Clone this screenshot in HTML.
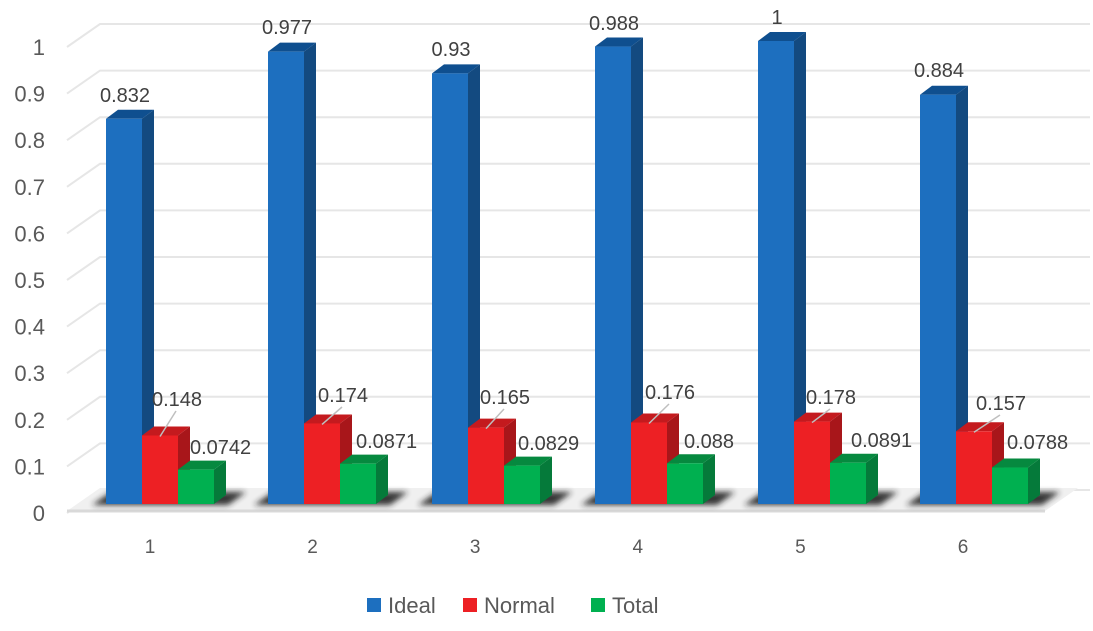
<!DOCTYPE html>
<html><head><meta charset="utf-8"><style>
html,body{margin:0;padding:0;background:#fff;width:1093px;height:631px;overflow:hidden}
svg{font-family:"Liberation Sans",sans-serif}
</style></head><body>
<svg id="s" width="1093" height="631" xmlns="http://www.w3.org/2000/svg">
<defs>
<filter id="bl" x="-20%" y="-100%" width="140%" height="300%"><feGaussianBlur stdDeviation="3"/></filter>
</defs>
</svg>
<script>
const s=document.getElementById('s');let h='';
const yf=v=>513-466*v;
for(let i=0;i<=10;i++){const v=i/10,y=yf(v);
 h+=`<polyline points="67,${y} 100,${y-23} 1090,${y-23}" fill="none" stroke="#e6e6e6" stroke-width="2"/>`;
 h+=`<text x="45" y="${y+8}" font-size="22" fill="#595959" text-anchor="end">${i==0?'0':i==10?'1':(v).toFixed(1)}</text>`;}
h+=`<polygon points="67,511 100,488 1078,488 1045,511" fill="#f0f0f0"/>`;
h+=`<line x1="67" y1="511" x2="1045" y2="511" stroke="#d9d9d9" stroke-width="3"/>`;
const ideal=[0.832,0.977,0.93,0.988,1,0.884],nor=[0.148,0.174,0.165,0.176,0.178,0.157],tot=[0.0742,0.0871,0.0829,0.088,0.0891,0.0788];
const il=['0.832','0.977','0.93','0.988','1','0.884'],nl=['0.148','0.174','0.165','0.176','0.178','0.157'],tl=['0.0742','0.0871','0.0829','0.088','0.0891','0.0788'];
const bx=[106,268,432,595,758,920];
const by=[95,27,49,23,17,70],ry=[399,395,397,392,397,403],gy=[447,441,443,441,440,442];
const rx=[152,318,480,645,806,976],gx=[190,356,518,684,851,1007];
function bar(x,v,f,sd,tp){const b=504,t=504-463*v,w=36,dx=12,dy=9;
 return `<polygon points="${x+w},${b} ${x+w+dx},${b-dy} ${x+w+dx},${t-dy} ${x+w},${t}" fill="${sd}"/>`+
 `<polygon points="${x},${t} ${x+dx},${t-dy} ${x+w+dx},${t-dy} ${x+w},${t}" fill="${tp}"/>`+
 `<rect x="${x}" y="${t}" width="${w}" height="${b-t}" fill="${f}"/>`;}
for(let g=0;g<6;g++){const x=bx[g];
 h+=`<polygon points="${x-14},505 ${x+5},492 ${x+140},492 ${x+122},505" fill="#222" filter="url(#bl)" opacity="0.9"/>`;}
for(let g=0;g<6;g++){const x=bx[g];
 h+=bar(x,ideal[g],'#1d6fbf','#134a80','#0f4f8f');
 h+=bar(x+36,nor[g],'#ed2024','#a8161a','#c41a1e');
 h+=bar(x+72,tot[g],'#00b050','#057a3a','#06893f');}
for(let g=0;g<6;g++){const x=bx[g];
 h+=`<text x="${x+19}" y="${by[g]+7}" font-size="20" fill="#404040" text-anchor="middle">${il[g]}</text>`;
 const rt=504-463*nor[g];
 h+=`<line x1="${x+54}" y1="${rt+1}" x2="${rx[g]+24}" y2="${ry[g]+12}" stroke="#bfbfbf" stroke-width="1.5"/>`;
 h+=`<text x="${rx[g]}" y="${ry[g]+7}" font-size="20" fill="#404040">${nl[g]}</text>`;
 h+=`<text x="${gx[g]}" y="${gy[g]+7}" font-size="20" fill="#404040">${tl[g]}</text>`;
 h+=`<text x="${150+g*162.6}" y="553" font-size="19" fill="#595959" text-anchor="middle">${g+1}</text>`;}
h+=`<rect x="367" y="598" width="14" height="14" fill="#1d6fbf"/><text x="388" y="613" font-size="22" fill="#595959">Ideal</text>`;
h+=`<rect x="463" y="598" width="14" height="14" fill="#ed2024"/><text x="484" y="613" font-size="22" fill="#595959">Normal</text>`;
h+=`<rect x="591" y="598" width="14" height="14" fill="#00b050"/><text x="612" y="613" font-size="22" fill="#595959">Total</text>`;
s.insertAdjacentHTML('beforeend',h);
</script>
</body></html>
